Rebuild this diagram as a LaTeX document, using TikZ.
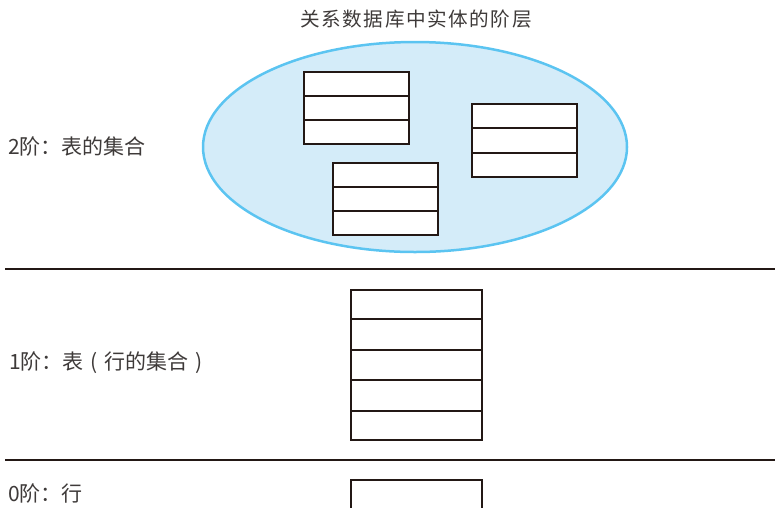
\documentclass[tikz,border=0pt]{standalone}
\usepackage{fontspec}
\newfontfamily\cjk{Noto Sans CJK SC}
\newfontfamily\cjkt[LetterSpace=8]{Noto Sans CJK SC}
\usetikzlibrary{shapes.geometric,calc}
\definecolor{inkc}{HTML}{231815}
\definecolor{txtc}{HTML}{3E3A39}
\definecolor{ellfill}{HTML}{D4ECF9}
\definecolor{elldraw}{HTML}{5BC4F1}
\newcommand{\lpar}{\hspace{0.33em}(\hspace{0.33em}}
\newcommand{\rpar}{\hspace{0.33em})\hspace{0.33em}}
\begin{document}
\begin{tikzpicture}[x=1pt,y=-1pt,
  tbl/.style={draw=inkc,line width=2pt,fill=white,inner sep=0pt,minimum width=105pt,anchor=north west},
  rowline/.style={draw=inkc,line width=2pt},
  sepline/.style={draw=inkc,line width=2pt},
  lbl/.style={text=txtc,font=\cjk\fontsize{21}{24}\selectfont,anchor=west,inner sep=0pt},
  ttl/.style={text=txtc,font=\cjkt\fontsize{19.6}{23}\selectfont,inner sep=0pt}]
\useasboundingbox (0,0) rectangle (775,507);
\begin{scope}
\clip (0,0) rectangle (775,507);
% title
\node[ttl] (title) at (416,19) {关系数据库中实体的阶层};
% level 2
\node[draw=elldraw,fill=ellfill,line width=2.5pt,ellipse,inner sep=0pt,minimum width=424pt,minimum height=210pt] (set) at (415,147) {};
\node[tbl,minimum height=72pt] (tA) at (303,71) {};
\node[tbl,minimum height=73pt] (tB) at (471,103) {};
\node[tbl,minimum height=72pt] (tC) at (332,162) {};
\foreach \t in {tA,tB,tC}{
  \foreach \f in {1/3,2/3}{
    \draw[rowline] ($(\t.north west)!\f!(\t.south west)$) -- ($(\t.north east)!\f!(\t.south east)$);
  }
}
\node[lbl] (l2) at (8,147) {2阶：表的集合};
% separators
\coordinate (s1a) at (5,269);
\coordinate (s1b) at (776,269);
\coordinate (s2a) at (5,460);
\coordinate (s2b) at (776,460);
\draw[sepline] (s1a) -- (s1b);
\draw[sepline] (s2a) -- (s2b);
% level 1
\node[tbl,minimum width=131pt,minimum height=150pt] (t1) at (350,289) {};
\foreach \f in {1/5,2/5,3/5,4/5}{
  \draw[rowline] ($(t1.north west)!\f!(t1.south west)$) -- ($(t1.north east)!\f!(t1.south east)$);
}
\node[lbl] (l1) at (9,363) {1阶：表\lpar 行的集合\rpar};
% level 0
\node[tbl,minimum width=131pt,minimum height=40pt] (t0) at (350,479) {};
\node[lbl] (l0) at (8,493) {0阶：行};
\end{scope}
\end{tikzpicture}
\end{document}
